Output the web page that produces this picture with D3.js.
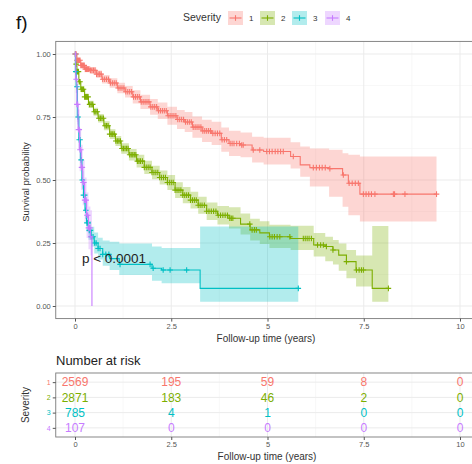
<!DOCTYPE html>
<html><head><meta charset="utf-8">
<script src="https://cdn.jsdelivr.net/npm/d3@7"></script>
<style>body{margin:0;background:#fff}svg{display:block;font-family:"Liberation Sans",Arial,sans-serif}</style>
</head><body><svg id="c" width="472" height="464"></svg>
<script>
// ---------------- data ----------------
const groups = ["1", "2", "3", "4"];
const colors = ["#F8766D", "#7CAE00", "#00BFC4", "#C77CFF"];

const t1  = [0,0.05,0.15,0.25,0.4,0.55,0.7,0.9,1.1,1.3,1.5,1.7,1.95,2.15,2.4,2.65,2.85,3.05,3.3,3.55,3.8,4.0,4.3,4.6,4.9,5.6,5.85,6.1,6.6,6.95,7.1,7.4];
const s1  = [1,0.975,0.955,0.94,0.935,0.92,0.9,0.885,0.865,0.85,0.83,0.81,0.79,0.775,0.755,0.74,0.73,0.71,0.695,0.685,0.66,0.645,0.639,0.619,0.613,0.593,0.56,0.549,0.545,0.52,0.487,0.444];
const lo1 = [1,0.968,0.945,0.928,0.922,0.905,0.883,0.866,0.844,0.827,0.804,0.782,0.759,0.742,0.719,0.702,0.69,0.668,0.651,0.639,0.612,0.595,0.59,0.569,0.562,0.546,0.513,0.474,0.434,0.394,0.36,0.335];
const hi1 = [1,0.982,0.965,0.952,0.948,0.935,0.917,0.904,0.886,0.873,0.856,0.838,0.821,0.808,0.791,0.778,0.77,0.752,0.739,0.731,0.708,0.695,0.688,0.672,0.668,0.65,0.633,0.625,0.62,0.606,0.6,0.593];
const end1 = 9.39;
const cens1 = [0.01,0.03,0.05,0.07,0.09,0.11,0.13,0.15,0.18,0.21,0.24,0.27,0.3,0.33,0.36,0.4,0.44,0.48,0.52,0.56,0.6,0.64,0.68,0.72,0.77,0.82,0.87,0.92,0.97,1.02,1.07,1.12,1.17,1.22,1.27,1.32,1.37,1.42,1.47,1.52,1.57,1.62,1.67,1.72,1.77,1.82,1.87,1.92,1.97,2.02,2.07,2.12,2.17,2.22,2.27,2.32,2.37,2.42,2.47,2.52,2.57,2.62,2.67,2.72,2.77,2.82,2.87,2.92,2.97,3.02,3.07,3.12,3.17,3.22,3.27,3.32,3.37,3.42,3.47,3.52,3.58,3.64,3.7,3.76,3.82,3.88,3.94,4.03,4.08,4.13,4.2,4.27,4.33,4.37,4.63,4.8,4.98,5.05,5.12,5.2,5.27,5.34,5.41,5.67,6.19,6.27,6.35,6.42,6.5,6.62,6.97,7.12,7.2,7.28,7.36,7.49,7.56,7.63,7.7,7.79,8.27,8.3,8.57,9.39];

const t2  = [0,0.02,0.05,0.1,0.15,0.25,0.35,0.48,0.6,0.75,0.9,1.05,1.2,1.4,1.6,1.8,2.0,2.2,2.4,2.6,2.8,3.0,3.2,3.42,3.7,4.0,4.3,4.55,4.8,5.05,5.6,6.2,6.5,6.7,6.85,7.05,7.3,7.72];
const s2  = [1,0.96,0.93,0.89,0.86,0.83,0.8,0.771,0.745,0.715,0.682,0.655,0.625,0.6,0.575,0.55,0.53,0.51,0.49,0.46,0.44,0.42,0.4,0.376,0.36,0.348,0.325,0.302,0.29,0.275,0.268,0.242,0.236,0.222,0.202,0.176,0.143,0.07];
const lo2 = [1,0.952,0.92,0.879,0.848,0.817,0.786,0.755,0.728,0.697,0.663,0.635,0.604,0.577,0.55,0.524,0.503,0.482,0.46,0.429,0.408,0.387,0.366,0.341,0.323,0.308,0.284,0.26,0.246,0.23,0.222,0.196,0.178,0.165,0.14,0.11,0.077,0.017];
const hi2 = [1,0.968,0.94,0.901,0.872,0.843,0.814,0.787,0.762,0.733,0.701,0.675,0.646,0.623,0.6,0.576,0.557,0.538,0.52,0.491,0.472,0.453,0.434,0.411,0.397,0.392,0.367,0.346,0.336,0.322,0.318,0.29,0.275,0.262,0.248,0.222,0.2,0.317];
const end2 = 8.14;
const cens2 = [0.01,0.03,0.05,0.07,0.09,0.11,0.13,0.16,0.19,0.22,0.25,0.28,0.31,0.34,0.38,0.42,0.46,0.5,0.54,0.58,0.62,0.66,0.7,0.74,0.78,0.82,0.86,0.9,0.94,0.98,1.02,1.06,1.1,1.14,1.18,1.22,1.26,1.3,1.34,1.38,1.42,1.46,1.5,1.54,1.58,1.62,1.66,1.7,1.75,1.8,1.85,1.9,1.95,2.0,2.05,2.1,2.15,2.2,2.25,2.3,2.35,2.4,2.45,2.5,2.55,2.6,2.65,2.7,2.75,2.8,2.85,2.9,2.95,3.0,3.05,3.1,3.15,3.2,3.25,3.3,3.36,3.42,3.48,3.54,3.6,3.66,3.72,3.78,3.84,3.9,3.96,4.02,4.06,4.1,4.54,4.6,4.66,4.71,5.06,5.12,5.18,5.25,5.32,5.58,5.93,5.98,6.03,6.08,6.14,6.3,6.38,6.45,6.53,6.7,7.05,7.31,7.38,7.44,7.49,8.14];

const t3  = [0,0.01,0.03,0.06,0.1,0.14,0.18,0.22,0.26,0.3,0.35,0.42,0.5,0.6,0.72,0.9,1.15,2.0,2.25,3.25];
const s3  = [1,0.93,0.87,0.75,0.66,0.58,0.5,0.44,0.38,0.33,0.3,0.275,0.25,0.228,0.205,0.188,0.165,0.15,0.143,0.07];
const lo3 = [1,0.912,0.846,0.72,0.627,0.545,0.465,0.405,0.345,0.295,0.263,0.236,0.208,0.185,0.16,0.143,0.123,0.1,0.09,0.017];
const hi3 = [1,0.948,0.894,0.78,0.693,0.615,0.535,0.475,0.415,0.365,0.337,0.314,0.292,0.271,0.26,0.255,0.248,0.236,0.23,0.315];
const end3 = 5.8;
const cens3 = [0.02,0.05,0.08,0.11,0.13,0.16,0.19,0.22,0.25,0.28,0.31,0.34,0.37,0.4,0.43,0.47,0.51,0.55,0.6,0.65,0.72,0.8,0.88,1.17,1.95,2.03,2.29,2.47,2.9,5.8];

const t4  = [0,0.02,0.05,0.08,0.12,0.16,0.2,0.25,0.3,0.35,0.4,0.44];
const s4  = [1,0.9,0.8,0.7,0.62,0.55,0.49,0.42,0.36,0.31,0.275,0];
const lo4 = [1,0.845,0.73,0.62,0.535,0.46,0.4,0.33,0.27,0.225,0.2,NaN];
const hi4 = [1,0.955,0.87,0.78,0.705,0.64,0.58,0.51,0.45,0.395,0.38,NaN];
const end4 = 0.44;
const cens4 = [0.01,0.03,0.05,0.07,0.09,0.11,0.13,0.15,0.17,0.19,0.21,0.23,0.25,0.27,0.29,0.31,0.33,0.35,0.37,0.39,0.41];

const riskTimes = [0, 2.5, 5, 7.5, 10];
const risk1 = [2569, 195, 59, 8, 0];
const risk2 = [2871, 183, 46, 2, 0];
const risk3 = [785, 4, 1, 0, 0];
const risk4 = [107, 0, 0, 0, 0];

const xTicks = [0, 2.5, 5, 7.5, 10];
const xTickLabels = ["0", "2.5", "5", "7.5", "10"];
const xMinor = [1.25, 3.75, 6.25, 8.75];
const yTicks = [0, 0.25, 0.5, 0.75, 1];
const yTickLabels = ["0.00", "0.25", "0.50", "0.75", "1.00"];
const yMinor = [0.125, 0.375, 0.625, 0.875];
const pText = "p < 0.0001";

// ---------------- drawing ----------------
const series = [
  {t:t1,s:s1,lo:lo1,hi:hi1,end:end1,cens:cens1},
  {t:t2,s:s2,lo:lo2,hi:hi2,end:end2,cens:cens2},
  {t:t3,s:s3,lo:lo3,hi:hi3,end:end3,cens:cens3},
  {t:t4,s:s4,lo:lo4,hi:hi4,end:end4,cens:cens4}
];
const risks = [risk1, risk2, risk3, risk4];

const svg = d3.select("#c");
const font = '"Liberation Sans", Arial, sans-serif';
svg.append("rect").attr("width",472).attr("height",464).attr("fill","#fff");

const x = d3.scaleLinear().domain([-0.5, 10.5]).range([55.75, 479.25]);
const y = d3.scaleLinear().domain([-0.05, 1.05]).range([318.6, 41.4]);
const P = {l:55.75, r:479.25, t:41.4, b:318.6};

// panel grid
const g = svg.append("g");
g.selectAll(".xmin").data(xMinor).join("line").attr("x1",d=>x(d)).attr("x2",d=>x(d)).attr("y1",P.t).attr("y2",P.b).attr("stroke","#F3F3F3").attr("stroke-width",0.6);
g.selectAll(".ymin").data(yMinor).join("line").attr("y1",d=>y(d)).attr("y2",d=>y(d)).attr("x1",P.l).attr("x2",P.r).attr("stroke","#F3F3F3").attr("stroke-width",0.6);
g.selectAll(".xmaj").data(xTicks).join("line").attr("x1",d=>x(d)).attr("x2",d=>x(d)).attr("y1",P.t).attr("y2",P.b).attr("stroke","#EBEBEB").attr("stroke-width",1);
g.selectAll(".ymaj").data(yTicks).join("line").attr("y1",d=>y(d)).attr("y2",d=>y(d)).attr("x1",P.l).attr("x2",P.r).attr("stroke","#EBEBEB").attr("stroke-width",1);

svg.append("clipPath").attr("id","clipP").append("rect").attr("x",P.l).attr("y",P.t).attr("width",P.r-P.l).attr("height",P.b-P.t);
const plot = svg.append("g").attr("clip-path","url(#clipP)");

function bandData(sr){
  const pts = [];
  sr.t.forEach((t,i)=>{ if (isFinite(sr.lo[i])) pts.push({t, lo:sr.lo[i], hi:sr.hi[i]}); });
  const last = pts[pts.length-1];
  pts.push({t:sr.end, lo:last.lo, hi:last.hi});
  return pts;
}
function lineData(sr){
  const pts = sr.t.map((t,i)=>({t, s:sr.s[i]}));
  pts.push({t:sr.end, s:sr.s[sr.s.length-1]});
  return pts;
}
function sAt(sr, tt){
  const i = d3.bisectRight(sr.t, tt) - 1;
  return sr.s[Math.max(0,i)];
}
const area = d3.area().curve(d3.curveStepAfter).x(d=>x(d.t)).y0(d=>y(d.lo)).y1(d=>y(d.hi));
const line = d3.line().curve(d3.curveStepAfter).x(d=>x(d.t)).y(d=>y(d.s));

series.forEach((sr,k)=>{
  plot.append("path").attr("d", area(bandData(sr))).attr("fill", colors[k]).attr("fill-opacity",0.3).attr("stroke","none");
});
series.forEach((sr,k)=>{
  plot.append("path").attr("d", line(lineData(sr))).attr("fill","none").attr("stroke", colors[k]).attr("stroke-width",1.1);
  const cs = 2.8;
  plot.append("path").attr("d", sr.cens.map(c=>{
    const cx = x(c), cy = y(sAt(sr,c));
    return `M${cx-cs},${cy}H${cx+cs}M${cx},${cy-cs}V${cy+cs}`;
  }).join("")).attr("stroke", colors[k]).attr("stroke-width",1.1).attr("fill","none");
});

// panel border
svg.append("rect").attr("x",P.l).attr("y",P.t).attr("width",P.r-P.l).attr("height",P.b-P.t).attr("fill","none").attr("stroke","#7a7a7a").attr("stroke-width",0.9);

// axes
const yAxis = svg.append("g").attr("transform",`translate(${P.l},0)`)
  .call(d3.axisLeft(y).tickValues(yTicks).tickFormat((d,i)=>yTickLabels[i]).tickSize(3).tickPadding(2));
const xAxis = svg.append("g").attr("transform",`translate(0,${P.b})`)
  .call(d3.axisBottom(x).tickValues(xTicks).tickFormat((d,i)=>xTickLabels[i]).tickSize(3).tickPadding(2));
[yAxis, xAxis].forEach(a=>{
  a.select(".domain").remove();
  a.selectAll("line").attr("stroke","#555");
  a.selectAll("text").attr("fill","#555").attr("font-size",7.5).attr("font-family",font);
});

svg.append("text").attr("transform","translate(29,182) rotate(-90)").attr("text-anchor","middle")
  .attr("font-size",9.5).attr("fill","#333").attr("font-family",font).text("Survival probability");
svg.append("text").attr("x",266).attr("y",342).attr("text-anchor","middle")
  .attr("font-size",10).attr("fill","#333").attr("font-family",font).text("Follow-up time (years)");

// p-value
svg.append("text").attr("x",x(0.18)).attr("y",y(0.172)).attr("font-size",13.5).attr("fill","#222").attr("font-family",font).text(pText);

// f) label
svg.append("text").attr("x",16).attr("y",29).attr("font-size",19).attr("fill","#111").attr("font-family",font).text("f)");

// legend
const leg = svg.append("g");
leg.append("text").attr("x",183).attr("y",21).attr("font-size",10.5).attr("fill","#333").attr("font-family",font).text("Severity");
const keyX = [228, 260, 292, 325];
groups.forEach((gname,k)=>{
  const kx = keyX[k];
  leg.append("rect").attr("x",kx).attr("y",11).attr("width",15).attr("height",14).attr("fill",colors[k]).attr("fill-opacity",0.3);
  leg.append("line").attr("x1",kx+1.5).attr("x2",kx+13.5).attr("y1",18).attr("y2",18).attr("stroke",colors[k]).attr("stroke-width",1.1);
  leg.append("line").attr("x1",kx+7.5).attr("x2",kx+7.5).attr("y1",15.2).attr("y2",20.8).attr("stroke",colors[k]).attr("stroke-width",1.1);
  leg.append("text").attr("x",kx+21).attr("y",21).attr("font-size",8).attr("fill","#333").attr("font-family",font).text(gname);
});

// ---------------- risk table ----------------
const T = {t:373, b:437};
const ry = d3.scaleLinear().domain([0.4, 4.6]).range([T.t, T.b]);
svg.append("text").attr("x",56).attr("y",365).attr("font-size",13).attr("fill","#222").attr("font-family",font).text("Number at risk");
const tg = svg.append("g");
tg.selectAll(".xmin").data(xMinor).join("line").attr("x1",d=>x(d)).attr("x2",d=>x(d)).attr("y1",T.t).attr("y2",T.b).attr("stroke","#F3F3F3").attr("stroke-width",0.6);
tg.selectAll(".xmaj").data(xTicks).join("line").attr("x1",d=>x(d)).attr("x2",d=>x(d)).attr("y1",T.t).attr("y2",T.b).attr("stroke","#EBEBEB").attr("stroke-width",1);
tg.selectAll(".rows").data(groups).join("line").attr("y1",(d,i)=>ry(i+1)).attr("y2",(d,i)=>ry(i+1)).attr("x1",P.l).attr("x2",P.r).attr("stroke","#EBEBEB").attr("stroke-width",1);
risks.forEach((r,k)=>{
  tg.selectAll(null).data(r).join("text")
    .attr("x",(d,i)=>x(riskTimes[i])).attr("y",ry(k+1)).attr("dy","0.36em").attr("text-anchor","middle")
    .attr("font-size",12).attr("fill",colors[k]).attr("font-family",font).text(d=>d);
});
svg.append("rect").attr("x",P.l).attr("y",T.t).attr("width",P.r-P.l).attr("height",T.b-T.t).attr("fill","none").attr("stroke","#7a7a7a").attr("stroke-width",0.9);
const ryAxis = svg.append("g").attr("transform",`translate(${P.l},0)`)
  .call(d3.axisLeft(ry).tickValues([1,2,3,4]).tickFormat((d,i)=>groups[i]).tickSize(3).tickPadding(2));
ryAxis.select(".domain").remove();
ryAxis.selectAll("line").attr("stroke","#555");
ryAxis.selectAll("text").attr("fill",(d,i)=>colors[i]).attr("font-size",7).attr("font-family",font);
const rxAxis = svg.append("g").attr("transform",`translate(0,${T.b})`)
  .call(d3.axisBottom(x).tickValues(xTicks).tickFormat((d,i)=>xTickLabels[i]).tickSize(3).tickPadding(2));
rxAxis.select(".domain").remove();
rxAxis.selectAll("line").attr("stroke","#555");
rxAxis.selectAll("text").attr("fill","#555").attr("font-size",7.5).attr("font-family",font);
svg.append("text").attr("transform","translate(29,405) rotate(-90)").attr("text-anchor","middle")
  .attr("font-size",10).attr("fill","#333").attr("font-family",font).text("Severity");
svg.append("text").attr("x",267).attr("y",460).attr("text-anchor","middle")
  .attr("font-size",10).attr("fill","#333").attr("font-family",font).text("Follow-up time (years)");
</script></body></html>
